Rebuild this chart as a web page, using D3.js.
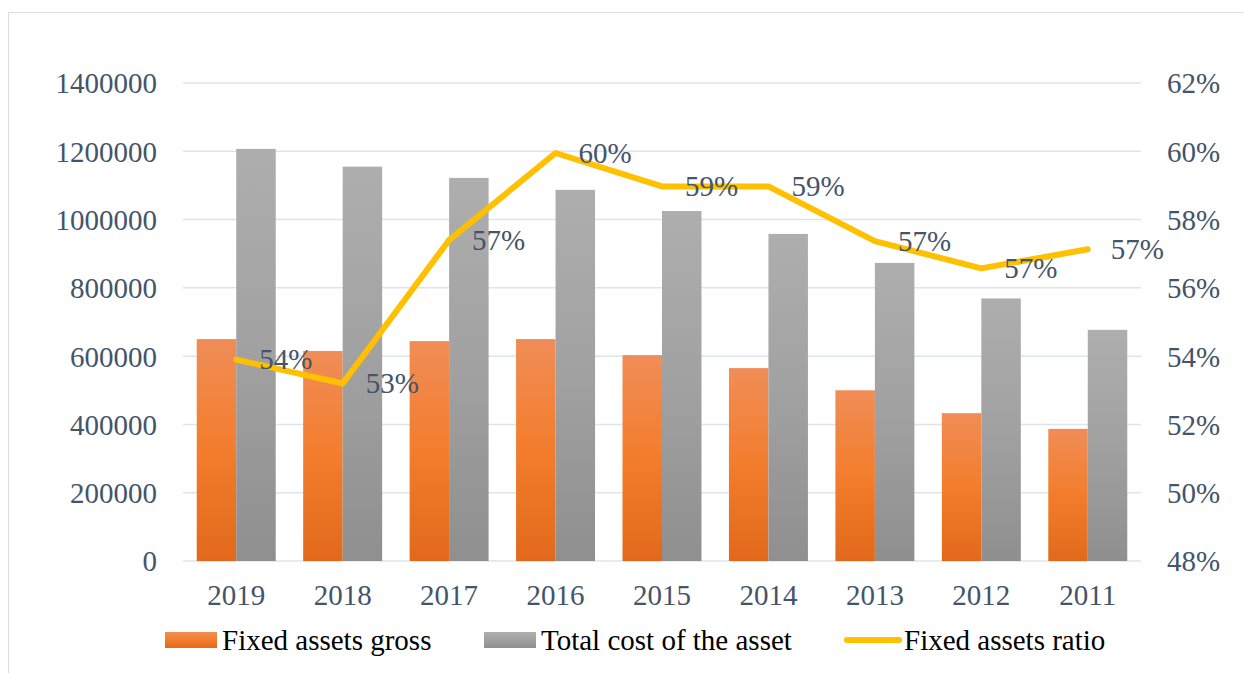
<!DOCTYPE html>
<html>
<head>
<meta charset="utf-8">
<script src="https://cdn.jsdelivr.net/npm/d3@7/dist/d3.min.js"></script>
<style>
  html, body { margin: 0; padding: 0; background: #fff; }
  svg { display: block; }
  svg text { font-family: "Liberation Serif", "Times New Roman", serif; }
</style>
</head>
<body>
<svg id="chart" width="1244" height="673"></svg>
<script>
// Years shown on the category axis
const years = ["2019", "2018", "2017", "2016", "2015", "2014", "2013", "2012", "2011"];
// Fixed assets gross (left axis)
const fixedAssetsGross = [650000, 615000, 644000, 650000, 603000, 565000, 500000, 433000, 387000];
// Total cost of the asset (left axis)
const totalCost = [1207000, 1155000, 1122000, 1087000, 1025000, 958000, 873000, 769000, 677000];
// Fixed assets ratio in percent (right axis)
const fixedAssetsRatio = [53.9, 53.2, 57.4, 59.95, 58.97, 58.97, 57.37, 56.57, 57.13];
// Axis ticks
const leftTicks = [0, 200000, 400000, 600000, 800000, 1000000, 1200000, 1400000];
const rightTicks = [48, 50, 52, 54, 56, 58, 60, 62];
// Legend entries
const legendLabels = ["Fixed assets gross", "Total cost of the asset", "Fixed assets ratio"];

const svg = d3.select("#chart");
const plot = { left: 183, right: 1141, top: 83, bottom: 561 };
const labelColor = "#44546a";
const fontSize = 29;
const serif = "'Liberation Serif', 'Times New Roman', serif";

// Outer chart frame
svg.append("rect")
  .attr("x", 8.5).attr("y", 12.5)
  .attr("width", 1260).attr("height", 680)
  .attr("fill", "none").attr("stroke", "#d9dde3").attr("stroke-width", 1);

// Gradients for the bars
const defs = svg.append("defs");
function vGrad(id, stops) {
  const g = defs.append("linearGradient").attr("id", id)
    .attr("x1", 0).attr("y1", 0).attr("x2", 0).attr("y2", 1);
  stops.forEach(([o, c]) => g.append("stop").attr("offset", o).attr("stop-color", c));
}
vGrad("gradOrange", [[0, "#f08d57"], [0.5, "#f37d2c"], [1, "#e2691b"]]);
vGrad("gradGray", [[0, "#aeaeae"], [0.5, "#a1a1a1"], [1, "#8f8f8f"]]);

// Scales
const x = d3.scaleBand().domain(years).range([plot.left, plot.right]).paddingInner(0).paddingOuter(0);
const yLeft = d3.scaleLinear().domain([0, 1400000]).range([plot.bottom, plot.top]);
const yRight = d3.scaleLinear().domain([48, 62]).range([plot.bottom, plot.top]);
const barW = x.bandwidth() * 0.371;

// Horizontal gridlines
svg.append("g").selectAll("line").data(leftTicks).join("line")
  .attr("x1", plot.left).attr("x2", plot.right)
  .attr("y1", d => yLeft(d)).attr("y2", d => yLeft(d))
  .attr("stroke", "#dfe3ea").attr("stroke-width", 1.5);

// Left axis
const leftAxis = svg.append("g").attr("transform", `translate(${plot.left - 26},0)`)
  .call(d3.axisLeft(yLeft).tickValues(leftTicks).tickFormat(d3.format("d")).tickSize(0).tickPadding(0));
leftAxis.select(".domain").remove();
leftAxis.attr("font-family", serif);
leftAxis.selectAll("text").attr("fill", labelColor).attr("font-size", fontSize).attr("dy", "0.34em");

// Right axis
const rightAxis = svg.append("g").attr("transform", `translate(${plot.right + 26},0)`)
  .call(d3.axisRight(yRight).tickValues(rightTicks).tickFormat(d => d + "%").tickSize(0).tickPadding(0));
rightAxis.select(".domain").remove();
rightAxis.attr("font-family", serif);
rightAxis.selectAll("text").attr("fill", labelColor).attr("font-size", fontSize).attr("dy", "0.34em");

// Category axis
const bottomAxis = svg.append("g").attr("transform", `translate(0,${plot.bottom})`)
  .call(d3.axisBottom(x).tickSize(0).tickPadding(0));
bottomAxis.select(".domain").remove();
bottomAxis.attr("font-family", serif);
bottomAxis.selectAll("text").attr("fill", labelColor).attr("font-size", fontSize).attr("dy", "1.52em");

// Bars
const center = d => x(d) + x.bandwidth() / 2;
svg.append("g").selectAll("rect").data(years).join("rect")
  .attr("x", d => center(d) - barW)
  .attr("y", (d, i) => yLeft(fixedAssetsGross[i]))
  .attr("width", barW)
  .attr("height", (d, i) => yLeft(0) - yLeft(fixedAssetsGross[i]))
  .attr("fill", "url(#gradOrange)");
svg.append("g").selectAll("rect").data(years).join("rect")
  .attr("x", d => center(d))
  .attr("y", (d, i) => yLeft(totalCost[i]))
  .attr("width", barW)
  .attr("height", (d, i) => yLeft(0) - yLeft(totalCost[i]))
  .attr("fill", "url(#gradGray)");

// Ratio line
const line = d3.line().x((d, i) => center(years[i])).y(d => yRight(d));
svg.append("path").datum(fixedAssetsRatio)
  .attr("d", line).attr("fill", "none")
  .attr("stroke", "#ffc000").attr("stroke-width", 6)
  .attr("stroke-linejoin", "round").attr("stroke-linecap", "round");

// Ratio data labels, placed to the right of each point
svg.append("g").attr("font-family", serif).selectAll("text").data(fixedAssetsRatio).join("text")
  .attr("x", (d, i) => center(years[i]) + 23)
  .attr("y", d => yRight(d))
  .attr("dy", "0.34em")
  .attr("fill", labelColor).attr("font-size", fontSize)
  .text(d => Math.round(d) + "%");

// Legend
const legendY = 640;
const leg = svg.append("g").attr("font-family", serif);
leg.append("rect").attr("x", 165).attr("y", legendY - 8).attr("width", 52).attr("height", 16).attr("fill", "url(#gradOrange)");
leg.append("text").attr("x", 222).attr("y", legendY).attr("dy", "0.34em").attr("font-size", fontSize).attr("fill", "#000").text(legendLabels[0]);
leg.append("rect").attr("x", 484).attr("y", legendY - 8).attr("width", 52).attr("height", 16).attr("fill", "url(#gradGray)");
leg.append("text").attr("x", 541).attr("y", legendY).attr("dy", "0.34em").attr("font-size", fontSize).attr("fill", "#000").text(legendLabels[1]);
leg.append("line").attr("x1", 847).attr("x2", 899).attr("y1", legendY).attr("y2", legendY)
  .attr("stroke", "#ffc000").attr("stroke-width", 6).attr("stroke-linecap", "round");
leg.append("text").attr("x", 904).attr("y", legendY).attr("dy", "0.34em").attr("font-size", fontSize).attr("fill", "#000").text(legendLabels[2]);
</script>
</body>
</html>
